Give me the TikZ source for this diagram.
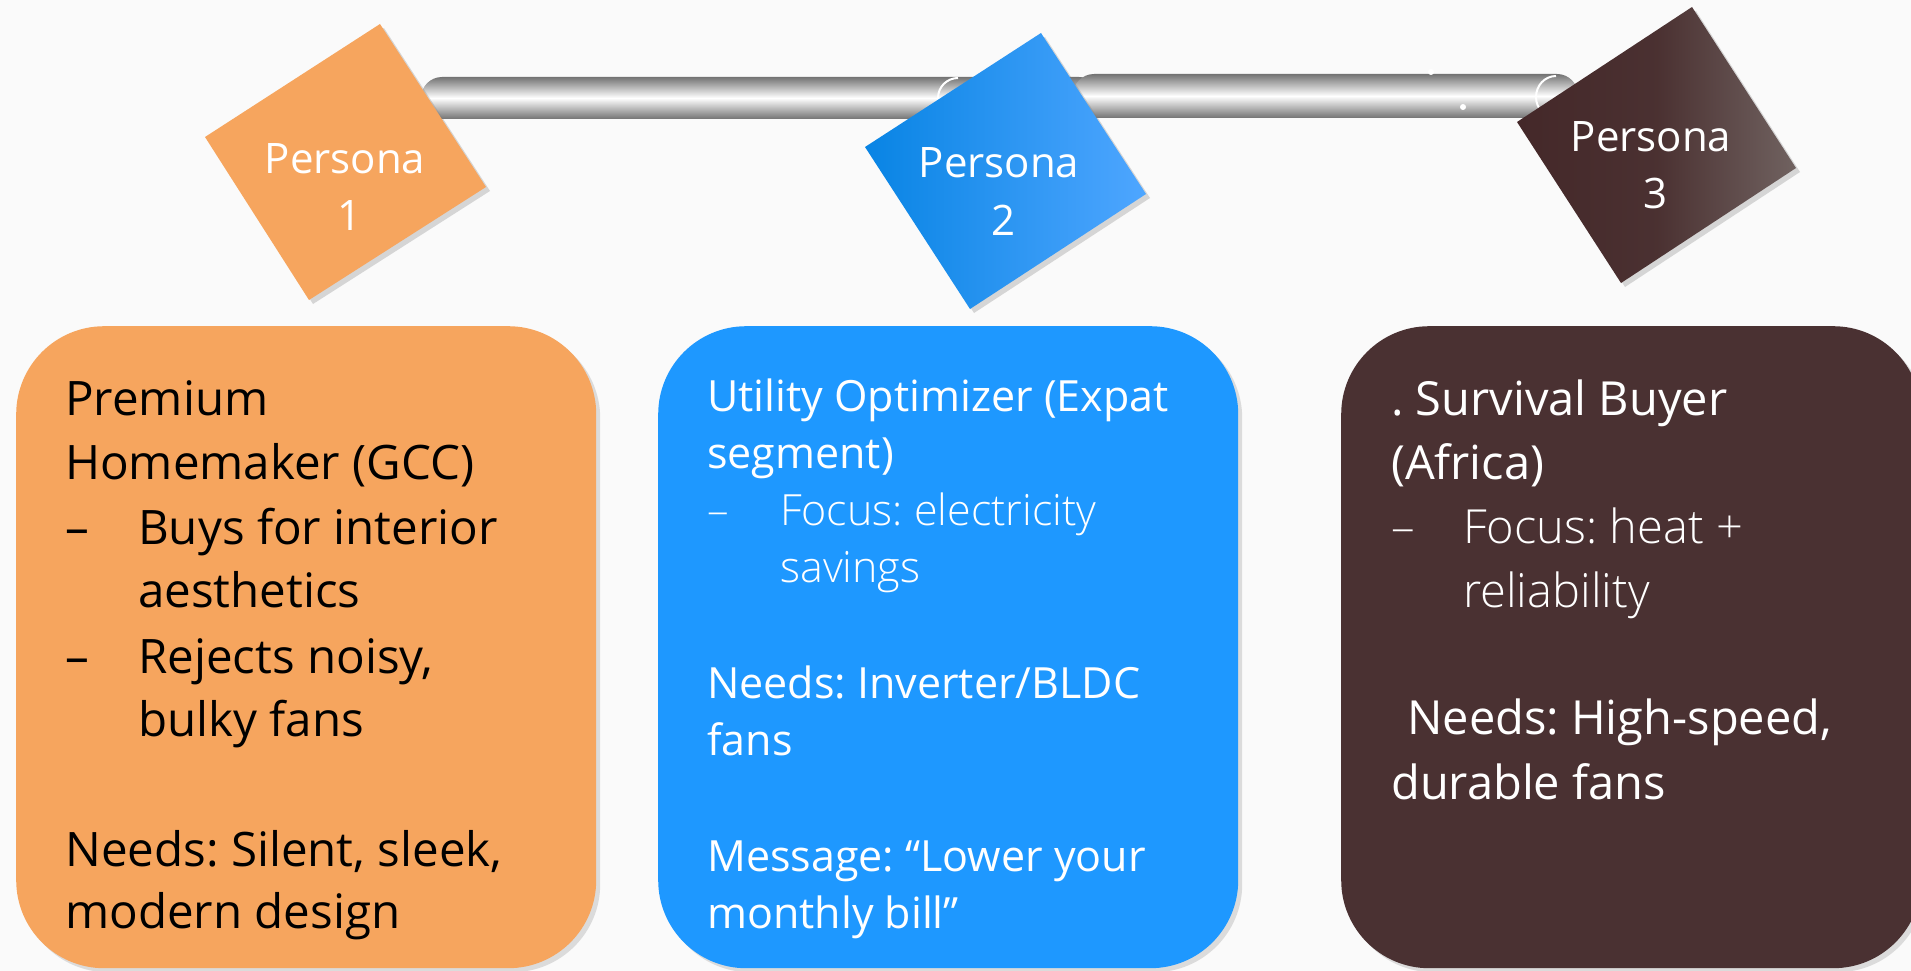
\documentclass[tikz,border=0pt]{standalone}
\usepackage{fontspec}
\setmainfont{Open Sans}
\newfontfamily\lightfont{Open Sans Light}
\usetikzlibrary{shadows}
\frenchspacing
\definecolor{bgC}{RGB}{250,250,250}
\definecolor{orangeC}{RGB}{246,165,94}
\definecolor{blueC}{RGB}{30,152,255}
\definecolor{brownC}{RGB}{74,49,50}
\definecolor{blueDark}{RGB}{8,132,228}
\definecolor{blueLight}{RGB}{78,166,255}
\definecolor{brownDark}{RGB}{68,40,41}
\definecolor{brownLight}{RGB}{112,98,96}
\definecolor{barGray}{RGB}{115,115,115}
\tikzset{
  boxshape/.style={rounded corners=88pt, minimum width=580pt, minimum height=642pt,
    anchor=north west, inner sep=0pt,
    drop shadow={shadow xshift=4pt, shadow yshift=-4pt, opacity=0.25}},
  dshadow/.style={drop shadow={shadow xshift=4pt, shadow yshift=-4pt, opacity=0.3}},
  bar/.style={top color=barGray, bottom color=barGray, middle color=white},
  ptext/.style={text=white, font=\fontsize{42}{52}\selectfont, anchor=base, inner sep=0pt},
  tA/.style={text=black, font=\fontsize{47.5}{60}\selectfont, anchor=base west, inner sep=0pt},
  tB/.style={text=white, font=\fontsize{43}{54}\selectfont, anchor=base west, inner sep=0pt},
  tBl/.style={text=white, font=\lightfont\fontsize{43}{54}\selectfont, anchor=base west, inner sep=0pt},
  tC/.style={text=white, font=\fontsize{47}{58}\selectfont, anchor=base west, inner sep=0pt},
  tCl/.style={text=white, font=\lightfont\fontsize{47}{58}\selectfont, anchor=base west, inner sep=0pt},
}
\begin{document}
\begin{tikzpicture}[x=1pt,y=-1pt]
\useasboundingbox (0,0) rectangle (1911,971);
\fill[bgC] (0,0) rectangle (1911,971);

% the bar
\shade[bar, rounded corners=21pt] (421,77) rectangle (1100,119);
\shade[bar, rounded corners=21pt] (1073,74) rectangle (1578,118);
\draw[white, line width=2pt] (958,78) arc[start angle=90, end angle=270, x radius=20pt, y radius=20pt];
\draw[white, line width=2pt] (1556,76) arc[start angle=90, end angle=270, x radius=20pt, y radius=21pt];
\fill[white] (1431,72) circle[radius=3pt];
\fill[white] (1463,107) circle[radius=3pt];

% diamonds
\fill[orangeC, dshadow] (380,24) -- (486,187) -- (309,300) -- (205,137) -- cycle;
\shade[dshadow, left color=blueDark, right color=blueLight] (1041,33) -- (1146,194) -- (970,309) -- (865,147) -- cycle;
\shade[dshadow, left color=brownDark, right color=brownLight, middle color=brownDark!85!brownLight] (1692,7) -- (1796,168) -- (1621,283) -- (1517,122) -- cycle;

\node[ptext] (p1a) at (345,173) {Persona};
\node[ptext] (p1b) at (350,230) {1};
\node[ptext] (p2a) at (999,177) {Persona};
\node[ptext] (p2b) at (1003,235) {2};
\node[ptext] (p3a) at (1651,152) {Persona};
\node[ptext] (p3b) at (1655,208) {3};

% boxes
\node[boxshape, fill=orangeC] (b1) at (16,326) {};
\node[boxshape, fill=blueC] (b2) at (658,326) {};
\node[boxshape, fill=brownC] (b3) at (1341,326) {};

% box 1 text
\node[tA] (a1) at (65,415) {Premium};
\node[tA] (a2) at (65,479) {Homemaker (GCC)};
\node[tA] (a3d) at (65,544) {–};
\node[tA] (a3) at (138,544) {Buys for interior};
\node[tA] (a4) at (138,607) {aesthetics};
\node[tA] (a5d) at (65,673) {–};
\node[tA] (a5) at (138,673) {Rejects noisy,};
\node[tA] (a6) at (138,736) {bulky fans};
\node[tA] (a7) at (65,866) {Needs: Silent, sleek,};
\node[tA] (a8) at (65,928) {modern design};

% box 2 text
\node[tB] (c1) at (707,411) {Utility Optimizer (Expat};
\node[tB] (c2) at (707,468) {segment)};
\node[tBl] (c3d) at (707,525) {–};
\node[tBl] (c3) at (780,525) {Focus: electricity};
\node[tBl] (c4) at (780,582) {savings};
\node[tB] (c5) at (707,698) {Needs: Inverter/BLDC};
\node[tB] (c6) at (707,755) {fans};
\node[tB] (c7) at (707,871) {Message: “Lower your};
\node[tB] (c8) at (707,928) {monthly bill”};

% box 3 text
\node[tC] (d1) at (1391,415) {. Survival Buyer};
\node[tC] (d2) at (1391,479) {(Africa)};
\node[tCl] (d3d) at (1391,543) {–};
\node[tCl] (d3) at (1463,543) {Focus: heat +};
\node[tCl] (d4) at (1463,607) {reliability};
\node[tC] (d5) at (1407,734) {Needs: High-speed,};
\node[tC] (d6) at (1391,799) {durable fans};
\end{tikzpicture}
\end{document}
